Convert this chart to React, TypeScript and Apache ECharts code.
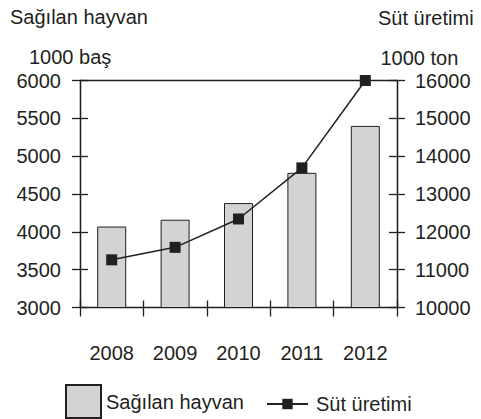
import React, { useEffect, useRef } from 'react';
import * as echarts from 'echarts';

const years = ['2008', '2009', '2010', '2011', '2012'];
const animals = [4070, 4160, 4380, 4780, 5400];
const milk = [11260, 11590, 12340, 13690, 16000];
const leftRange = [3000, 6000, 500];
const rightRange = [10000, 16000, 1000];
const titles = ['Sağılan hayvan', 'Süt üretimi'];
const units = ['1000 baş', '1000 ton'];

const FONT = '"Liberation Sans", Arial, Helvetica, sans-serif';
const INK = '#231f20';

export default function App() {
  const ref = useRef<HTMLDivElement>(null);
  useEffect(() => {
    if (!ref.current) return;
    const chart = echarts.init(ref.current, undefined, { renderer: 'svg' });
    const axisLine = { show: true, lineStyle: { color: INK, width: 1.3 } };
    const tickStyle = { color: INK, width: 1.3 };
    const yBase = (r: number[], pos: 'left' | 'right', inside: boolean, margin: number) => ({
      type: 'value' as const,
      position: pos,
      min: r[0],
      max: r[1],
      interval: r[2],
      axisLine,
      axisTick: { show: true, inside, length: 8, lineStyle: tickStyle },
      axisLabel: inside
        ? { show: false }
        : { show: true, margin, color: INK, fontSize: 20, fontFamily: FONT, formatter: (v: number) => String(v) },
      splitLine: { show: false },
    });
    chart.setOption({
      animation: false,
      textStyle: { fontFamily: FONT },
      grid: { left: 80, right: 84, top: 80.5, bottom: 111.5, containLabel: false },
      xAxis: [
        {
          type: 'category',
          data: years,
          position: 'bottom',
          boundaryGap: true,
          axisLine,
          axisTick: { show: true, length: 9, lineStyle: tickStyle },
          axisLabel: { margin: 35, color: INK, fontSize: 20, fontFamily: FONT },
        },
        {
          type: 'category',
          data: years,
          position: 'bottom',
          boundaryGap: true,
          axisLine: { show: false },
          axisTick: { show: true, inside: true, length: 7, lineStyle: tickStyle },
          axisLabel: { show: false },
        },
        {
          type: 'category',
          data: years,
          position: 'top',
          boundaryGap: true,
          axisLine,
          axisTick: { show: false },
          axisLabel: { show: false },
        },
      ],
      yAxis: [
        yBase(leftRange, 'left', false, 19),
        yBase(leftRange, 'left', true, 0),
        yBase(rightRange, 'right', false, 18),
        yBase(rightRange, 'right', true, 0),
      ],
      legend: [
        {
          data: [{ name: titles[0], icon: 'rect' }],
          left: 65,
          top: 384,
          padding: 0,
          itemWidth: 35,
          itemHeight: 33,
          textStyle: { color: INK, fontSize: 20, fontFamily: FONT },
        },
        {
          data: [titles[1]],
          left: 266,
          top: 394,
          padding: 0,
          itemWidth: 41,
          itemHeight: 13,
          textStyle: { color: INK, fontSize: 20, fontFamily: FONT, padding: [0, 0, 0, 3] },
        },
      ],
      graphic: [
        { type: 'text', x: 10, y: 17, style: { text: titles[0], fill: INK, font: `20px ${FONT}`, textAlign: 'left', textVerticalAlign: 'middle' } },
        { type: 'text', x: 29, y: 57, style: { text: units[0], fill: INK, font: `20px ${FONT}`, textAlign: 'left', textVerticalAlign: 'middle' } },
        { type: 'text', x: 378, y: 17.5, style: { text: titles[1], fill: INK, font: `20px ${FONT}`, textAlign: 'left', textVerticalAlign: 'middle' } },
        { type: 'text', x: 380.5, y: 57.5, style: { text: units[1], fill: INK, font: `20px ${FONT}`, textAlign: 'left', textVerticalAlign: 'middle' } },
      ],
      series: [
        {
          name: titles[0],
          type: 'bar',
          data: animals,
          xAxisIndex: 0,
          yAxisIndex: 0,
          barWidth: 29,
          itemStyle: { color: '#d1d3d4', borderColor: INK, borderWidth: 1 },
          emphasis: { disabled: true },
          z: 1,
        },
        {
          name: titles[1],
          type: 'line',
          data: milk,
          xAxisIndex: 0,
          yAxisIndex: 2,
          symbol: 'rect',
          symbolSize: 11,
          itemStyle: { color: INK },
          lineStyle: { color: INK, width: 1.5 },
          emphasis: { disabled: true },
          z: 5,
        },
      ],
    });
    return () => chart.dispose();
  }, []);
  return (
    <div
      ref={ref}
      style={{ position: 'fixed', left: 0, top: 0, width: 481, height: 419, background: '#fff' }}
    />
  );
}
